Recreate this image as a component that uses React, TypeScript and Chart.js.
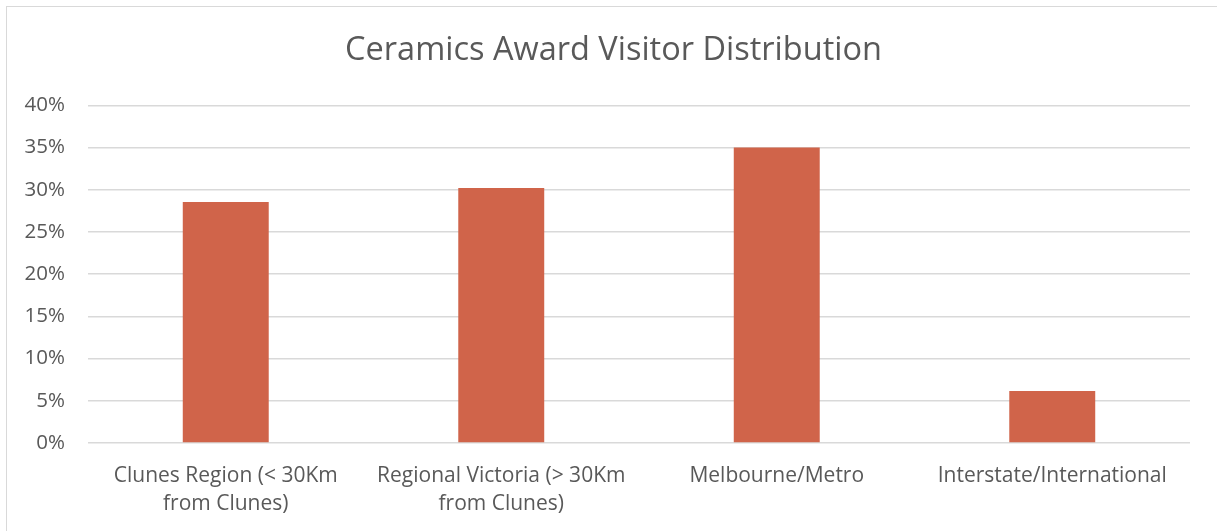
import React, { useEffect, useRef } from "react";
import { Chart, registerables } from "chart.js";

Chart.register(...registerables);

const categories: string[][] = [
  ["Clunes Region (< 30Km", "from Clunes)"],
  ["Regional Victoria (> 30Km", "from Clunes)"],
  ["Melbourne/Metro"],
  ["Interstate/International"],
];
const visitorShare: number[] = [28.55, 30.2, 35.0, 6.15];
const yTickMax = 40;
const yTickStep = 5;
const chartTitle = "Ceramics Award Visitor Distribution";

const W = 1217;
const H = 531;
const FONT = "'Open Sans', 'Noto Sans', sans-serif";
const TEXT = "#595959";

// Excel centres the title on the whole chart frame, slightly right of the plot centre
const titleShift = {
  id: "titleShift",
  afterLayout(chart: any) {
    if (chart.titleBlock) chart.titleBlock.left += 37;
  },
};

export default function App() {
  const ref = useRef<HTMLCanvasElement | null>(null);

  useEffect(() => {
    if (!ref.current) return;
    const chart = new Chart(ref.current, {
      type: "bar",
      data: {
        labels: categories,
        datasets: [
          {
            data: visitorShare,
            backgroundColor: "#D0644A",
            borderWidth: 0,
            categoryPercentage: 1,
            barPercentage: 0.312,
          },
        ],
      },
      options: {
        responsive: false,
        animation: false,
        devicePixelRatio: 1,
        layout: { padding: { left: 0, right: 27, top: 0, bottom: 0 } },
        plugins: {
          legend: { display: false },
          tooltip: { enabled: false },
          title: {
            display: true,
            text: chartTitle,
            color: TEXT,
            font: { family: FONT, size: 32.5, weight: "normal", lineHeight: 1.2 },
            padding: { top: 31, bottom: 35.4 },
          },
        },
        scales: {
          x: {
            grid: { display: false, drawTicks: false },
            border: { display: false },
            ticks: {
              color: TEXT,
              padding: 19,
              maxRotation: 0,
              autoSkip: false,
              font: { family: FONT, size: 21, lineHeight: 28 / 21 },
            },
            afterFit: (s: any) => {
              s.height = 88;
            },
          },
          y: {
            min: 0,
            max: yTickMax,
            grid: { color: "#D9D9D9", lineWidth: 1.5, drawTicks: false },
            border: { display: false },
            ticks: {
              stepSize: yTickStep,
              color: TEXT,
              padding: 23,
              font: { family: FONT, size: 20.5 },
              callback: (v: any) => v + "%",
            },
            afterFit: (s: any) => {
              s.width = 88;
            },
          },
        },
      },
      plugins: [titleShift],
    });
    return () => chart.destroy();
  }, []);

  return (
    <div
      style={{
        position: "fixed",
        left: 0,
        top: 0,
        width: W,
        height: H,
        overflow: "hidden",
        background: "#fff",
      }}
    >
      <div
        style={{
          position: "absolute",
          left: 6,
          top: 6,
          width: W + 100,
          height: H + 100,
          border: "1.5px solid #D9D9D9",
          boxSizing: "border-box",
        }}
      />
      <canvas
        ref={ref}
        width={W}
        height={H}
        style={{ position: "absolute", left: 0, top: 0, width: W, height: H }}
      />
    </div>
  );
}
